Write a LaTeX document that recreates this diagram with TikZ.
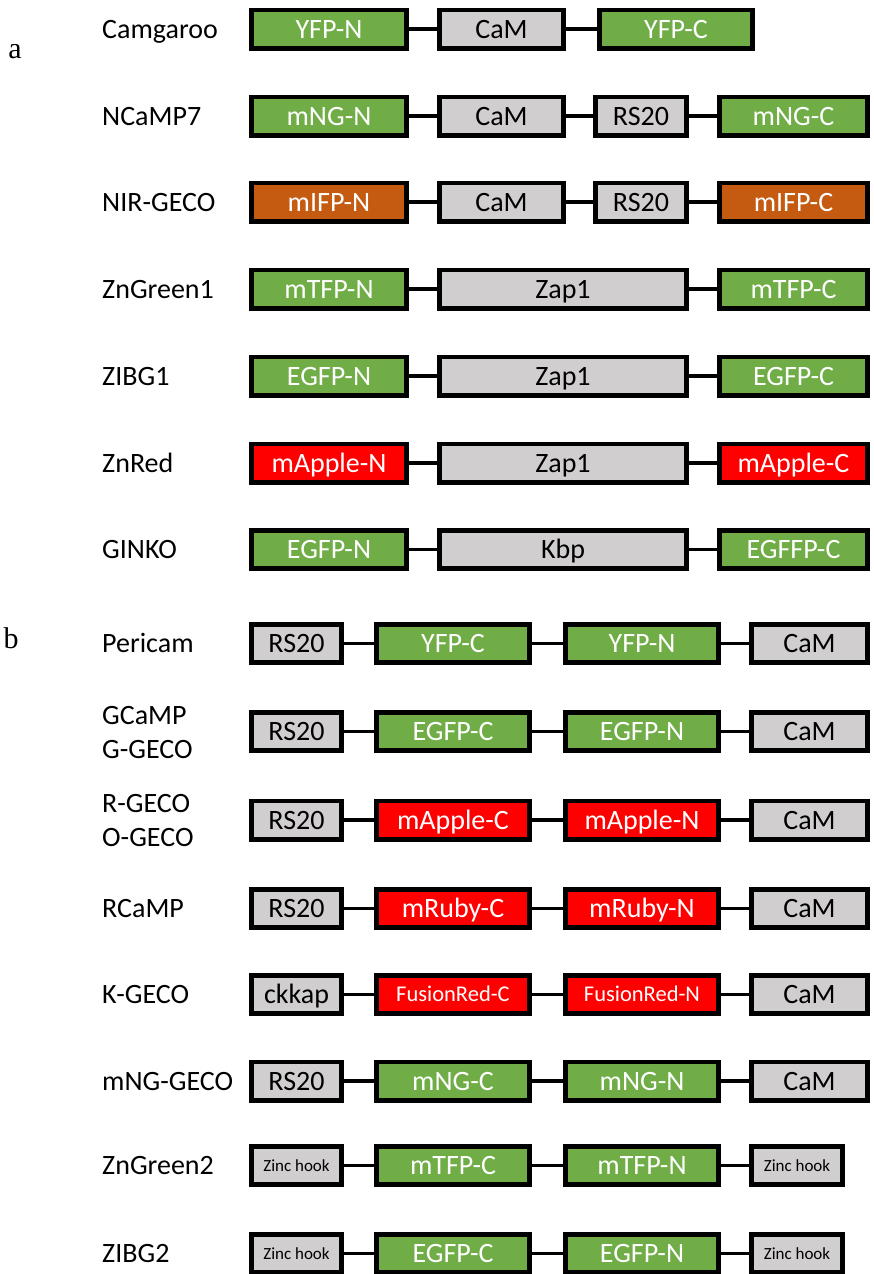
\documentclass[tikz,border=0pt]{standalone}
\usepackage{fontspec}
\setmainfont{Carlito}
\newfontfamily\serifpanel{Liberation Serif}
\definecolor{fpgreen}{RGB}{112,173,71}
\definecolor{fpgray}{RGB}{208,206,206}
\definecolor{fporange}{RGB}{197,90,17}
\definecolor{fpred}{RGB}{255,0,0}
\tikzset{
  box/.style={draw=black, line width=4.6pt, minimum height=38.4pt, inner sep=0pt,
    text height=18pt, text depth=0pt, font=\fontsize{28}{34}\selectfont},
  gbox/.style={box, fill=fpgray, text=black},
  green/.style={box, fill=fpgreen, text=white},
  orange/.style={box, fill=fporange, text=white},
  redbox/.style={box, fill=fpred, text=white},
  smallred/.style={redbox, text height=14.5pt, font=\fontsize{22.5}{27}\selectfont},
  zinc/.style={gbox, text height=11pt, font=\fontsize{17}{20}\selectfont},
  conn/.style={draw=black, line width=3.4pt},
  lab/.style={anchor=west, inner sep=0pt, text height=18pt, text depth=0pt,
    font=\fontsize{28}{34}\selectfont},
  panel/.style={inner sep=0pt, font=\serifpanel\fontsize{30}{36}\selectfont}
}
\newcommand\bx[6]{\node[#5, minimum width={(#3-#2-4.6)*1pt}] (#1) at ({(#2+#3)/2},#4) {#6};}
\begin{document}
\begin{tikzpicture}[x=1pt,y=-1pt]
\useasboundingbox (0,0) rectangle (873,1274);
\node[panel] (pa) at (15,52) {a};
\node[panel] (pb) at (11,638) {b};
% ---------- part a ----------
% Camgaroo
\node[lab] (l1) at (102,29) {Camgaroo};
\bx{a1}{249}{409}{29}{green}{YFP-N}
\bx{a2}{437}{566}{29}{gbox}{CaM}
\bx{a3}{597}{755}{29}{green}{YFP-C}
\draw[conn] (a1.east) -- (a2.west) (a2.east) -- (a3.west);
% NCaMP7
\node[lab] (l2) at (102,116) {NCaMP7};
\bx{b1}{249}{409}{116}{green}{mNG-N}
\bx{b2}{437}{566}{116}{gbox}{CaM}
\bx{b3}{593}{689}{116}{gbox}{RS20}
\bx{b4}{717}{870}{116}{green}{mNG-C}
\draw[conn] (b1.east) -- (b2.west) (b2.east) -- (b3.west) (b3.east) -- (b4.west);
% NIR-GECO
\node[lab] (l3) at (102,202) {NIR-GECO};
\bx{c1}{249}{409}{202}{orange}{mIFP-N}
\bx{c2}{437}{566}{202}{gbox}{CaM}
\bx{c3}{593}{689}{202}{gbox}{RS20}
\bx{c4}{717}{870}{202}{orange}{mIFP-C}
\draw[conn] (c1.east) -- (c2.west) (c2.east) -- (c3.west) (c3.east) -- (c4.west);
% ZnGreen1
\node[lab] (l4) at (102,289) {ZnGreen1};
\bx{d1}{249}{409}{289}{green}{mTFP-N}
\bx{d2}{437}{689}{289}{gbox}{Zap1}
\bx{d3}{717}{870}{289}{green}{mTFP-C}
\draw[conn] (d1.east) -- (d2.west) (d2.east) -- (d3.west);
% ZIBG1
\node[lab] (l5) at (102,376) {ZIBG1};
\bx{e1}{249}{409}{376}{green}{EGFP-N}
\bx{e2}{437}{689}{376}{gbox}{Zap1}
\bx{e3}{717}{870}{376}{green}{EGFP-C}
\draw[conn] (e1.east) -- (e2.west) (e2.east) -- (e3.west);
% ZnRed
\node[lab] (l6) at (102,463) {ZnRed};
\bx{f1}{249}{409}{463}{redbox}{mApple-N}
\bx{f2}{437}{689}{463}{gbox}{Zap1}
\bx{f3}{717}{870}{463}{redbox}{mApple-C}
\draw[conn] (f1.east) -- (f2.west) (f2.east) -- (f3.west);
% GINKO
\node[lab] (l7) at (102,549.5) {GINKO};
\bx{g1}{249}{409}{549.5}{green}{EGFP-N}
\bx{g2}{437}{689}{549.5}{gbox}{Kbp}
\bx{g3}{717}{870}{549.5}{green}{EGFFP-C}
\draw[conn] (g1.east) -- (g2.west) (g2.east) -- (g3.west);
% ---------- part b ----------
% Pericam
\node[lab] (m1) at (102,643.5) {Pericam};
\bx{h1}{249}{344}{643.5}{gbox}{RS20}
\bx{h2}{374}{532}{643.5}{green}{YFP-C}
\bx{h3}{563}{721}{643.5}{green}{YFP-N}
\bx{h4}{749}{870}{643.5}{gbox}{CaM}
\draw[conn] (h1.east) -- (h2.west) (h2.east) -- (h3.west) (h3.east) -- (h4.west);
% GCaMP / G-GECO
\node[lab] (m2a) at (102,715) {GCaMP};
\node[lab] (m2b) at (102,749) {G-GECO};
\bx{i1}{249}{344}{731.5}{gbox}{RS20}
\bx{i2}{374}{532}{731.5}{green}{EGFP-C}
\bx{i3}{563}{721}{731.5}{green}{EGFP-N}
\bx{i4}{749}{870}{731.5}{gbox}{CaM}
\draw[conn] (i1.east) -- (i2.west) (i2.east) -- (i3.west) (i3.east) -- (i4.west);
% R-GECO / O-GECO
\node[lab] (m3a) at (102,803.5) {R-GECO};
\node[lab] (m3b) at (102,837.5) {O-GECO};
\bx{j1}{249}{344}{820}{gbox}{RS20}
\bx{j2}{374}{532}{820}{redbox}{mApple-C}
\bx{j3}{563}{721}{820}{redbox}{mApple-N}
\bx{j4}{749}{870}{820}{gbox}{CaM}
\draw[conn] (j1.east) -- (j2.west) (j2.east) -- (j3.west) (j3.east) -- (j4.west);
% RCaMP
\node[lab] (m4) at (102,908.5) {RCaMP};
\bx{k1}{249}{344}{908.5}{gbox}{RS20}
\bx{k2}{374}{532}{908.5}{redbox}{mRuby-C}
\bx{k3}{563}{721}{908.5}{redbox}{mRuby-N}
\bx{k4}{749}{870}{908.5}{gbox}{CaM}
\draw[conn] (k1.east) -- (k2.west) (k2.east) -- (k3.west) (k3.east) -- (k4.west);
% K-GECO
\node[lab] (m5) at (102,994.5) {K-GECO};
\bx{n1}{249}{344}{994.5}{gbox}{ckkap}
\bx{n2}{374}{532}{994.5}{smallred}{FusionRed-C}
\bx{n3}{563}{721}{994.5}{smallred}{FusionRed-N}
\bx{n4}{749}{870}{994.5}{gbox}{CaM}
\draw[conn] (n1.east) -- (n2.west) (n2.east) -- (n3.west) (n3.east) -- (n4.west);
% mNG-GECO
\node[lab] (m6) at (102,1081) {mNG-GECO};
\bx{o1}{249}{344}{1081}{gbox}{RS20}
\bx{o2}{374}{532}{1081}{green}{mNG-C}
\bx{o3}{563}{721}{1081}{green}{mNG-N}
\bx{o4}{749}{870}{1081}{gbox}{CaM}
\draw[conn] (o1.east) -- (o2.west) (o2.east) -- (o3.west) (o3.east) -- (o4.west);
% ZnGreen2
\node[lab] (m7) at (102,1165.5) {ZnGreen2};
\bx{p1}{249}{344}{1165.5}{zinc}{Zinc hook}
\bx{p2}{374}{532}{1165.5}{green}{mTFP-C}
\bx{p3}{563}{721}{1165.5}{green}{mTFP-N}
\bx{p4}{749}{845}{1165.5}{zinc}{Zinc hook}
\draw[conn] (p1.east) -- (p2.west) (p2.east) -- (p3.west) (p3.east) -- (p4.west);
% ZIBG2
\node[lab] (m8) at (102,1253.5) {ZIBG2};
\bx{q1}{249}{344}{1253.5}{zinc}{Zinc hook}
\bx{q2}{374}{532}{1253.5}{green}{EGFP-C}
\bx{q3}{563}{721}{1253.5}{green}{EGFP-N}
\bx{q4}{749}{845}{1253.5}{zinc}{Zinc hook}
\draw[conn] (q1.east) -- (q2.west) (q2.east) -- (q3.west) (q3.east) -- (q4.west);
\end{tikzpicture}
\end{document}
